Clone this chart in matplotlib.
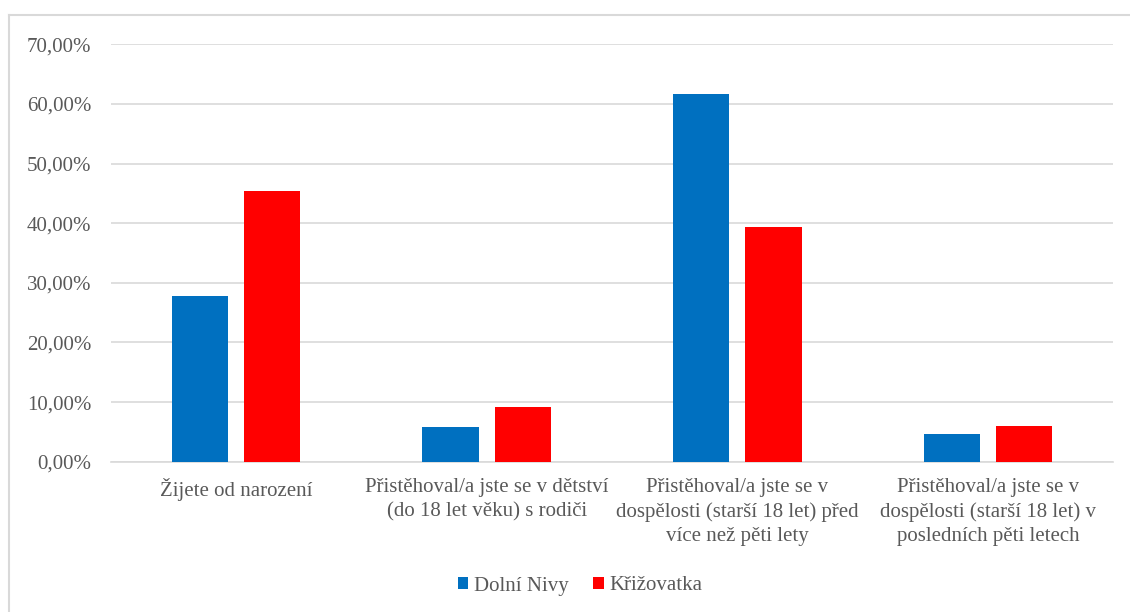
import numpy as np
import matplotlib.pyplot as plt
from matplotlib.lines import Line2D
from matplotlib.ticker import FuncFormatter

# Data (percent)
categories = [
    "Žijete od narození",
    "Přistěhoval/a jste se v dětství\n(do 18 let věku) s rodiči",
    "Přistěhoval/a jste se v\ndospělosti (starší 18 let) před\nvíce než pěti lety",
    "Přistěhoval/a jste se v\ndospělosti (starší 18 let) v\nposledních pěti letech",
]
dolni_nivy = [27.8, 5.8, 61.6, 4.65]
krizovatka = [45.4, 9.1, 39.35, 6.05]
series_names = ["Dolní Nivy", "Křižovatka"]
y_ticks = [0, 10, 20, 30, 40, 50, 60, 70]

text_col = "#595959"
grid_col = "#d9d9d9"
fs = 15

plt.rcParams["font.family"] = ["Liberation Serif", "DejaVu Serif"]

fig = plt.figure(figsize=(11.3, 6.12), dpi=100)
ax = fig.add_axes([110.6 / 1130, 150.3 / 612, 1002.8 / 1130, 417.4 / 612])

x = np.arange(len(categories))
w = 0.224
off = 0.144
ax.bar(x - off, dolni_nivy, w, color="#0070c0", label=series_names[0], zorder=3)
ax.bar(x + off, krizovatka, w, color="#ff0000", label=series_names[1], zorder=3)

ax.set_xlim(-0.5, len(categories) - 0.5)
ax.set_ylim(0, 70)
ax.set_yticks(y_ticks)
ax.yaxis.set_major_formatter(FuncFormatter(lambda v, p: f"{v:.2f}%".replace(".", ",")))
ax.set_xticks(x)
ax.set_xticklabels(categories, fontsize=fs, color=text_col, linespacing=1.38)
ax.tick_params(axis="y", labelsize=fs, labelcolor=text_col, length=0, pad=14)
ax.tick_params(axis="x", length=0, pad=11.5)

ax.grid(axis="y", color=grid_col, linewidth=1.2, zorder=0)
for s in ["top", "right", "left"]:
    ax.spines[s].set_visible(False)
ax.spines["bottom"].set_color(grid_col)
ax.spines["bottom"].set_linewidth(1.2)

fig.legend(loc="center", bbox_to_anchor=(580 / 1130, 1 - 586 / 612), ncol=2,
           frameon=False, fontsize=fs, labelcolor=text_col,
           handlelength=0.5, handleheight=0.5, handletextpad=0.25,
           columnspacing=1.2)

# Outer chart border (visible on top and left only)
fig.add_artist(Line2D([8.5 / 1130, 8.5 / 1130], [0, 1 - 15 / 612],
                      transform=fig.transFigure, color=grid_col, linewidth=1.5))
fig.add_artist(Line2D([8.5 / 1130, 1], [1 - 15 / 612, 1 - 15 / 612],
                      transform=fig.transFigure, color=grid_col, linewidth=1.5))

fig.savefig("out.png", dpi=100)
